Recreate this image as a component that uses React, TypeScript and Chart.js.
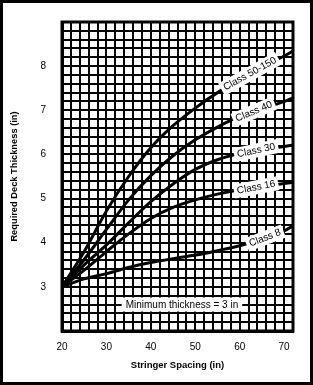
import React, { useEffect, useRef } from 'react';
import { Chart, registerables } from 'chart.js';

Chart.register(...registerables);

// Stringer spacing (in)
const spacing = [20, 25, 30, 35, 40, 45, 50, 55, 60, 65, 70, 72];
// Required deck thickness (in) per load class
const class50to150 = [3.0, 3.8, 4.72, 5.5, 6.15, 6.65, 7.05, 7.4, 7.7, 7.97, 8.23, 8.34];
const class40 = [3.0, 3.62, 4.3, 4.97, 5.52, 5.97, 6.33, 6.62, 6.86, 7.03, 7.2, 7.28];
const class30 = [3.0, 3.5, 3.95, 4.45, 4.93, 5.33, 5.66, 5.88, 6.02, 6.11, 6.18, 6.21];
const class16 = [3.0, 3.38, 3.8, 4.2, 4.55, 4.8, 4.97, 5.1, 5.2, 5.27, 5.34, 5.37];
const class8 = [3.0, 3.18, 3.3, 3.44, 3.55, 3.64, 3.72, 3.82, 3.93, 4.08, 4.27, 4.38];

const seriesNames = ['Class 50-150', 'Class 40', 'Class 30', 'Class 16', 'Class 8'];
const seriesValues = [class50to150, class40, class30, class16, class8];

const xTickLabels = [20, 30, 40, 50, 60, 70];
const yTickLabels = [3, 4, 5, 6, 7, 8];

const minNote = 'Minimum thickness = 3 in';

const FONT = '"Liberation Sans", Arial, Helvetica, sans-serif';

// label placement (style): x where label sits on the curve, rotation in degrees
const labelAt = [62.3, 63.2, 63.7, 63.7, 65.7];
const labelAngle = [29, 23, 12, 11, 21];

function valueAt(xs: number[], ys: number[], x: number) {
  for (let i = 0; i < xs.length - 1; i++) {
    if (x >= xs[i] && x <= xs[i + 1]) {
      const t = (x - xs[i]) / (xs[i + 1] - xs[i]);
      return ys[i] + t * (ys[i + 1] - ys[i]);
    }
  }
  return ys[ys.length - 1];
}

const labelPlugin = {
  id: 'curveLabels',
  afterDatasetsDraw(chart: any) {
    const { ctx, scales } = chart;
    const xs = scales.x;
    const ys = scales.y;
    ctx.save();
    ctx.font = `10px ${FONT}`;
    ctx.textAlign = 'center';
    ctx.textBaseline = 'middle';
    chart.data.datasets.forEach((ds: any, i: number) => {
      const lx = labelAt[i];
      const ly = valueAt(spacing, seriesValues[i], lx);
      const px = xs.getPixelForValue(lx);
      const py = ys.getPixelForValue(ly);
      const w = ctx.measureText(ds.label).width + 6;
      ctx.save();
      ctx.translate(px, py);
      ctx.rotate((-labelAngle[i] * Math.PI) / 180);
      ctx.fillStyle = '#fff';
      ctx.fillRect(-w / 2, -7, w, 14);
      ctx.fillStyle = '#000';
      ctx.fillText(ds.label, 0, 0);
      ctx.restore();
    });
    // minimum thickness note
    const nx = xs.getPixelForValue(47);
    const ny = ys.getPixelForValue(2.6);
    const nw = ctx.measureText(minNote).width + 8;
    ctx.fillStyle = '#fff';
    ctx.fillRect(nx - nw / 2, ny - 7, nw, 14);
    ctx.fillStyle = '#000';
    ctx.fillText(minNote, nx, ny + 1);
    ctx.restore();
  },
  afterDraw(chart: any) {
    const { ctx, chartArea, width, height } = chart;
    ctx.save();
    ctx.strokeStyle = '#000';
    ctx.lineWidth = 3;
    ctx.strokeRect(chartArea.left, chartArea.top, chartArea.right - chartArea.left, chartArea.bottom - chartArea.top);
    ctx.strokeRect(1.5, 1.5, width - 3, height - 3);
    ctx.restore();
  },
};

export default function App() {
  const ref = useRef<HTMLCanvasElement | null>(null);
  useEffect(() => {
    if (!ref.current) return;
    const chart = new Chart(ref.current, {
      type: 'line',
      data: {
        datasets: seriesNames.map((name, i) => ({
          label: name,
          data: spacing.map((x, j) => ({ x, y: seriesValues[i][j] })),
          borderColor: '#000',
          borderWidth: 3,
          pointRadius: 0,
          fill: false,
          cubicInterpolationMode: 'monotone' as const,
        })),
      },
      options: {
        responsive: false,
        animation: false,
        layout: { padding: { left: 0, top: 20, right: 20, bottom: 0 } },
        plugins: { legend: { display: false }, tooltip: { enabled: false } },
        scales: {
          x: {
            type: 'linear',
            min: 20,
            max: 72,
            afterFit: (s: any) => { s.height = 54; },
            ticks: {
              stepSize: 2,
              autoSkip: false,
              maxRotation: 0,
              padding: 10,
              color: '#000',
              font: { family: FONT, size: 10 },
              callback: (v: any) => {
                const n = Number(v);
                return Math.abs(n - Math.round(n)) < 1e-6 && xTickLabels.includes(Math.round(n)) ? String(Math.round(n)) : '';
              },
            },
            grid: { color: '#000', lineWidth: 2, drawTicks: false },
            border: { color: '#000', width: 3 },
            title: {
              display: true,
              text: 'Stringer Spacing (in)',
              color: '#000',
              font: { family: FONT, size: 9.5, weight: 'bold' },
              padding: { top: 0, bottom: 14 },
            },
          },
          y: {
            type: 'linear',
            min: 2,
            max: 9,
            afterFit: (s: any) => { s.width = 62; },
            ticks: {
              stepSize: 0.2,
              autoSkip: false,
              padding: 16,
              color: '#000',
              font: { family: FONT, size: 10 },
              callback: (v: any) => {
                const n = Number(v);
                return Math.abs(n - Math.round(n)) < 1e-6 && yTickLabels.includes(Math.round(n)) ? String(Math.round(n)) : '';
              },
            },
            grid: { color: '#000', lineWidth: 2, drawTicks: false },
            border: { color: '#000', width: 3 },
            title: {
              display: true,
              text: 'Required Deck Thickness (in)',
              color: '#000',
              font: { family: FONT, size: 9.3, weight: 'bold' },
              padding: { top: 9, bottom: 0 },
            },
          },
        },
      },
      plugins: [labelPlugin],
    } as any);
    return () => chart.destroy();
  }, []);
  return (
    <div style={{ position: 'absolute', left: 0, top: 0, width: 313, height: 385, background: '#fff' }}>
      <canvas ref={ref} width={313} height={385} style={{ display: 'block', width: 313, height: 385 }} />
    </div>
  );
}
